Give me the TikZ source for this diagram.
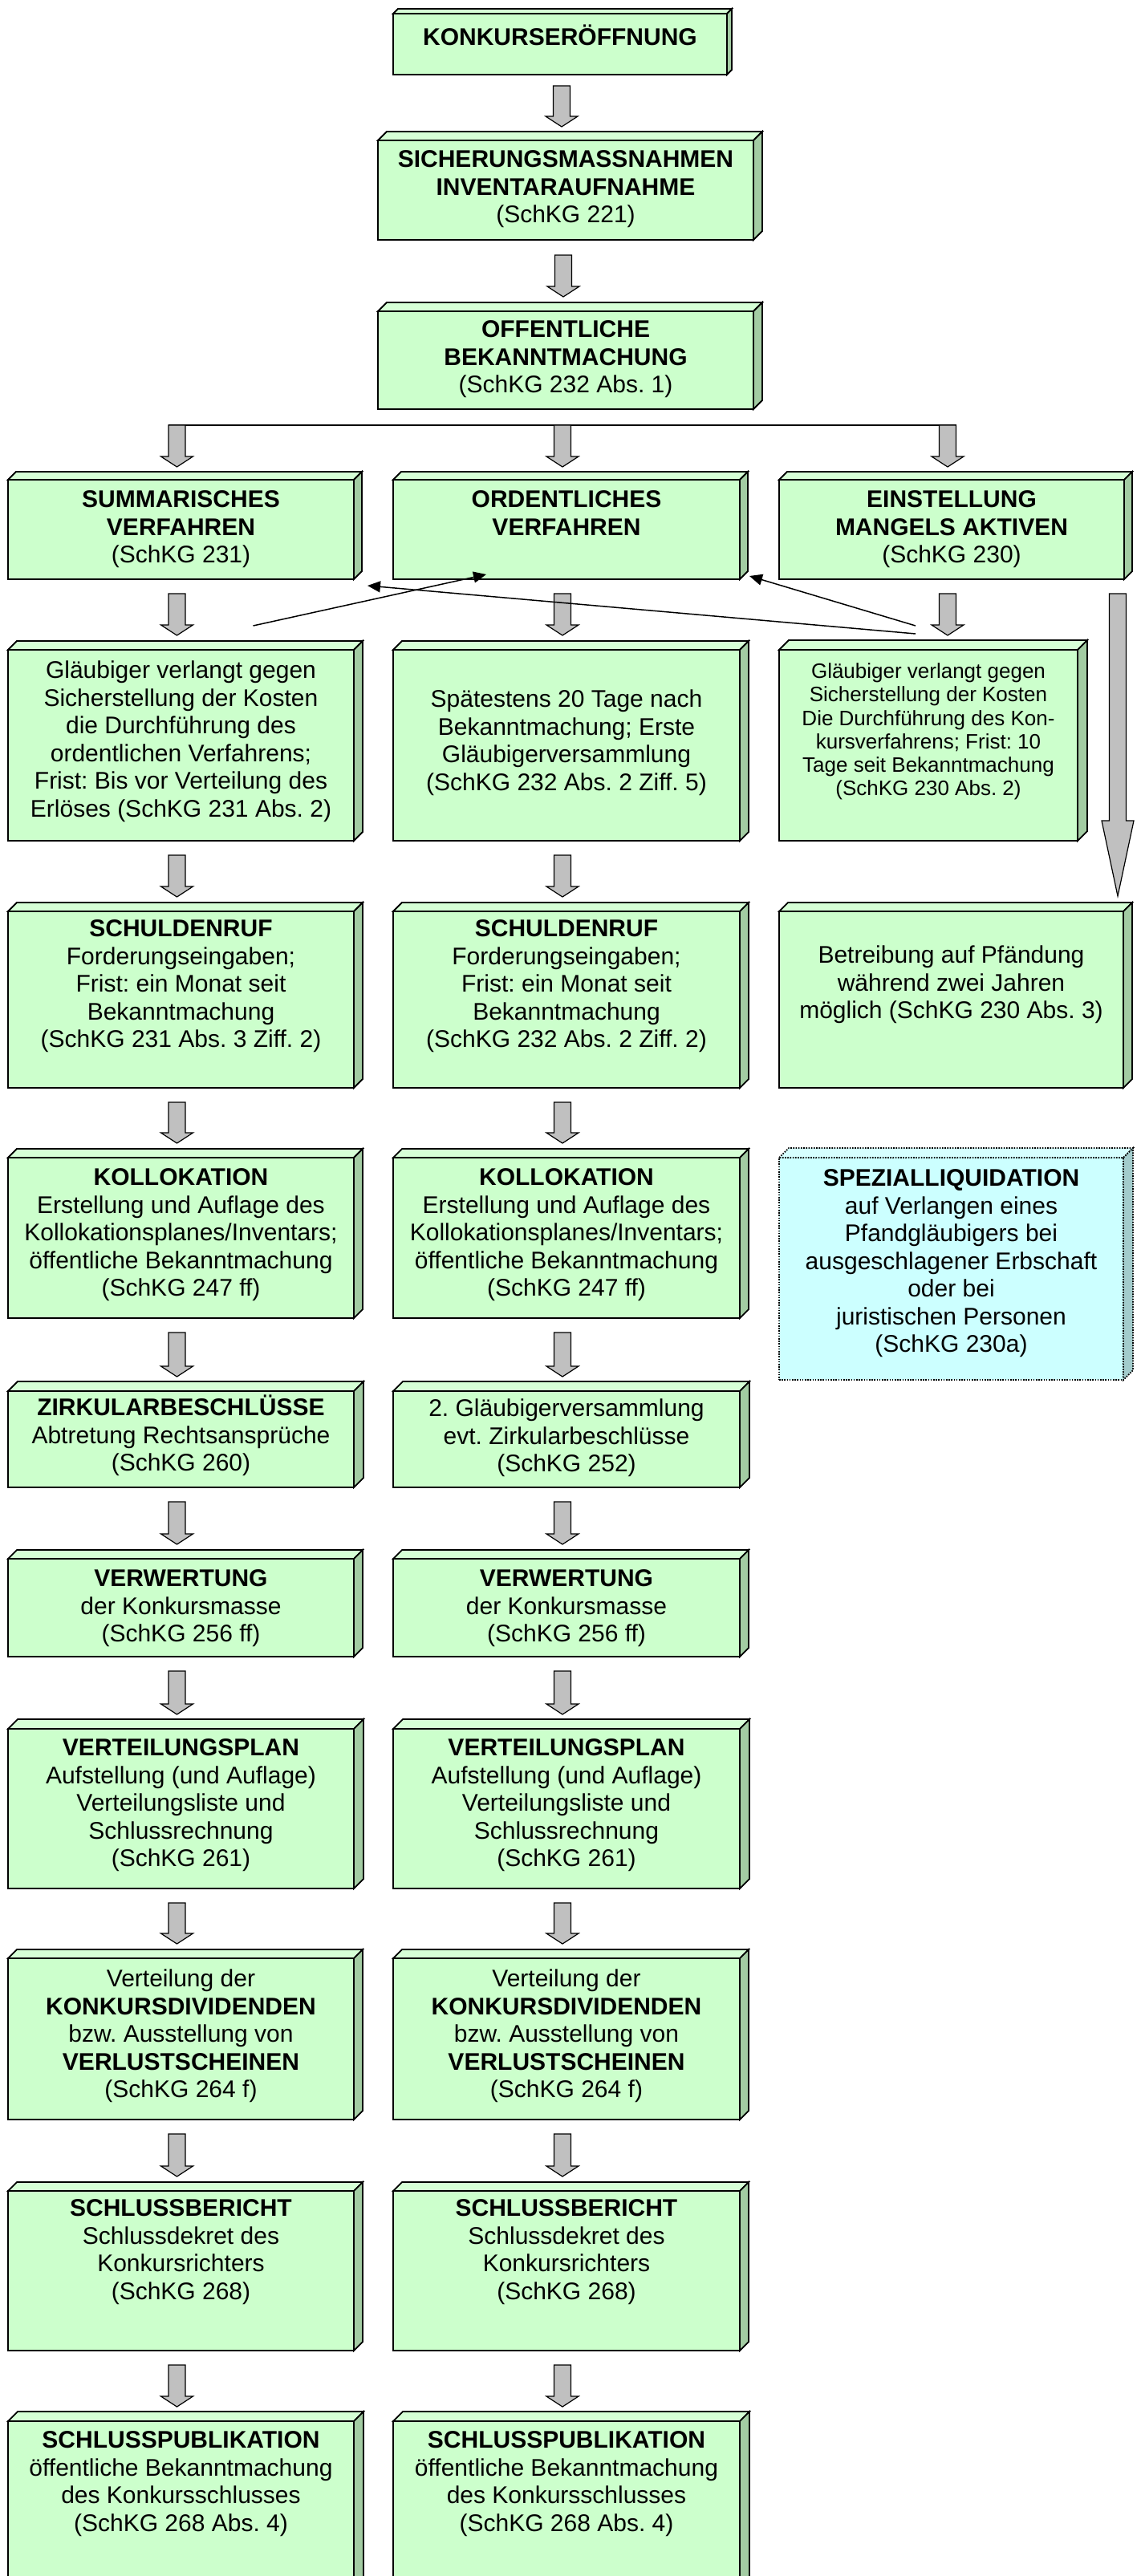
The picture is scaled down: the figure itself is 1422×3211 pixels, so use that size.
\documentclass[tikz,border=0pt]{standalone}
\usepackage{fontspec}
\setmainfont{Liberation Sans}
\usetikzlibrary{calc,arrows.meta}
\definecolor{gfront}{HTML}{CCFFCC}
\definecolor{gtop}{HTML}{D6FFD6}
\definecolor{gside}{HTML}{A3CCA3}
\definecolor{cfront}{HTML}{CCFFFF}
\definecolor{ctop}{HTML}{D6FFFF}
\definecolor{cside}{HTML}{A3CCCC}
\definecolor{agray}{HTML}{C0C0C0}
\tikzset{
  frontcol/.store in=\cbfront, topcol/.store in=\cbtop, sidecol/.store in=\cbside,
  frontcol=gfront, topcol=gtop, sidecol=gside,
  cubeline/.style={draw=black, line width=0.9pt, line join=miter},
  garrowst/.style={draw=black, fill=agray, line width=0.6pt, line join=miter},
  thinarr/.style={draw=black, line width=0.75pt, -{Triangle[length=8pt,width=7pt]}},
  barline/.style={draw=black, line width=1pt},
}
% #1 style, #2 name, #3 x1, #4 y1, #5 x2, #6 y2, #7 depth, #8 text offset (px), #9 text
\newcommand\cubebox[9][]{%
  \begin{scope}[#1]
  \pgfmathsetmacro\cbw{(#5-#3)*0.5}%
  \pgfmathsetmacro\cbh{(#6-#4)*0.5}%
  \pgfmathsetmacro\cbx{(#3+#5)/2}%
  \pgfmathsetmacro\cby{(#4+#6)/2}%
  \pgfmathsetmacro\cbt{#8*0.5-8.63}%
  \node[cubeline, fill=\cbfront, inner sep=0pt, outer sep=0pt] (#2) at (\cbx,\cby)
    {\begin{minipage}[c][\cbh pt][t]{\cbw pt}\frenchspacing\centering\vspace*{\cbt pt}\rule{0pt}{14pt}\ignorespaces#9\end{minipage}};
  \path[cubeline, fill=\cbtop] (#2.north west) -- ++(#7,-#7) -- ($(#2.north east)+(#7,-#7)$) -- (#2.north east) -- cycle;
  \path[cubeline, fill=\cbside] (#2.north east) -- ++(#7,-#7) -- ($(#2.south east)+(#7,-#7)$) -- (#2.south east) -- cycle;
  \end{scope}%
}
% #1 head length, #2 shaft start, #3 tip
\newcommand\garrow[3][6.5pt]{%
  \path[garrowst] let \p1=#2, \p2=#3 in
   (\x1-5.25pt,\y1) -- (\x1+5.25pt,\y1) -- (\x1+5.25pt,\y2+#1) -- (\x1+10pt,\y2+#1)
   -- (\x1,\y2) -- (\x1-10pt,\y2+#1) -- (\x1-5.25pt,\y2+#1) -- cycle;
}
\newcommand\colarrow[2]{\garrow{($(#1.south)+(-5,18)$)}{($(#2.north)+(-5,-18)$)}}
\begin{document}
\frenchspacing
\begin{tikzpicture}[x=0.5pt, y=-0.5pt, font=\fontsize{15}{17.25}\selectfont]
\useasboundingbox (0,0) rectangle (1422,3211);
\fill[white] (0,0) rectangle (1422,3211);
\begin{scope}
\clip (0,0) rectangle (1422,3211);

% top column
\cubebox{k1}{490}{17}{906}{93}{6}{29}{\textbf{KONKURSERÖFFNUNG}}
\cubebox{k2}{471}{175}{939}{299}{11}{23}{\textbf{SICHERUNGSMASSNAHMEN}\\\textbf{INVENTARAUFNAHME}\\(SchKG 221)}
\cubebox{k3}{471}{388}{939}{510}{11}{22}{\textbf{OFFENTLICHE}\\\textbf{BEKANNTMACHUNG}\\(SchKG 232 Abs. 1)}

% row 4
\cubebox{s4}{10}{598}{441}{722}{10}{24}{\textbf{SUMMARISCHES}\\\textbf{VERFAHREN}\\(SchKG 231)}
\cubebox{m4}{490}{598}{922}{722}{10}{24}{\textbf{ORDENTLICHES}\\\textbf{VERFAHREN}}
\cubebox{e4}{971}{598}{1401}{722}{10}{24}{\textbf{EINSTELLUNG}\\\textbf{MANGELS AKTIVEN}\\(SchKG 230)}

% row 5
\cubebox{s5}{10}{810}{441}{1048}{11}{25}{Gläubiger verlangt gegen\\Sicherstellung der Kosten\\die Durchführung des\\ordentlichen Verfahrens;\\Frist: Bis vor Verteilung des\\Erlöses (SchKG 231 Abs. 2)}
\cubebox{m5}{490}{810}{922}{1048}{11}{61}{Spätestens 20 Tage nach\\Bekanntmachung; Erste\\Gläubigerversammlung\\(SchKG 232 Abs. 2 Ziff. 5)}
\cubebox[font=\fontsize{13}{14.6}\selectfont]{r5}{971}{810}{1343}{1048}{12}{25}{Gläubiger verlangt gegen\\Sicherstellung der Kosten\\Die Durchführung des Kon-\\kursverfahrens; Frist: 10\\Tage seit Bekanntmachung\\(SchKG 230 Abs. 2)}

% row 6
\cubebox{s6}{10}{1136}{441}{1356}{11}{21}{\textbf{SCHULDENRUF}\\Forderungseingaben;\\Frist: ein Monat seit\\Bekanntmachung\\(SchKG 231 Abs. 3 Ziff. 2)}
\cubebox{m6}{490}{1136}{922}{1356}{11}{21}{\textbf{SCHULDENRUF}\\Forderungseingaben;\\Frist: ein Monat seit\\Bekanntmachung\\(SchKG 232 Abs. 2 Ziff. 2)}
\cubebox{r6}{971}{1136}{1400}{1356}{11}{54}{Betreibung auf Pfändung\\während zwei Jahren\\möglich (SchKG 230 Abs. 3)}

% row 7
\cubebox{s7}{10}{1443}{441}{1643}{11}{24}{\textbf{KOLLOKATION}\\Erstellung und Auflage des\\Kollokationsplanes/Inventars;\\öffentliche Bekanntmachung\\(SchKG 247 ff)}
\cubebox{m7}{490}{1443}{922}{1643}{11}{24}{\textbf{KOLLOKATION}\\Erstellung und Auflage des\\Kollokationsplanes/Inventars;\\öffentliche Bekanntmachung\\(SchKG 247 ff)}
\cubebox[frontcol=cfront, topcol=ctop, sidecol=cside, dash pattern=on 0.8pt off 0.8pt]{sp}{971}{1443}{1400}{1720}{12}{25}{\textbf{SPEZIALLIQUIDATION}\\auf Verlangen eines\\Pfandgläubigers bei\\ausgeschlagener Erbschaft\\oder bei\\juristischen Personen\\(SchKG 230a)}

% row 8
\cubebox{s8}{10}{1734}{441}{1854}{12}{20}{\textbf{ZIRKULARBESCHLÜSSE}\\Abtretung Rechtsansprüche\\(SchKG 260)}
\cubebox{m8}{490}{1734}{922}{1854}{12}{21}{2. Gläubigerversammlung\\evt. Zirkularbeschlüsse\\(SchKG 252)}

% row 9
\cubebox{s9}{10}{1943}{441}{2065}{11}{24}{\textbf{VERWERTUNG}\\der Konkursmasse\\(SchKG 256 ff)}
\cubebox{m9}{490}{1943}{922}{2065}{11}{24}{\textbf{VERWERTUNG}\\der Konkursmasse\\(SchKG 256 ff)}

% row 10
\cubebox{s10}{10}{2155}{441}{2354}{12}{23}{\textbf{VERTEILUNGSPLAN}\\Aufstellung (und Auflage)\\Verteilungsliste und\\Schlussrechnung\\(SchKG 261)}
\cubebox{m10}{490}{2155}{922}{2354}{12}{23}{\textbf{VERTEILUNGSPLAN}\\Aufstellung (und Auflage)\\Verteilungsliste und\\Schlussrechnung\\(SchKG 261)}

% row 11
\cubebox{s11}{10}{2441}{441}{2642}{11}{25}{Verteilung der\\\textbf{KONKURSDIVIDENDEN}\\bzw. Ausstellung von\\\textbf{VERLUSTSCHEINEN}\\(SchKG 264 f)}
\cubebox{m11}{490}{2441}{922}{2642}{11}{25}{Verteilung der\\\textbf{KONKURSDIVIDENDEN}\\bzw. Ausstellung von\\\textbf{VERLUSTSCHEINEN}\\(SchKG 264 f)}

% row 12
\cubebox{s12}{10}{2731}{441}{2930}{11}{21}{\textbf{SCHLUSSBERICHT}\\Schlussdekret des\\Konkursrichters\\(SchKG 268)}
\cubebox{m12}{490}{2731}{922}{2930}{11}{21}{\textbf{SCHLUSSBERICHT}\\Schlussdekret des\\Konkursrichters\\(SchKG 268)}

% row 13
\cubebox{s13}{10}{3018}{441}{3232}{12}{23}{\textbf{SCHLUSSPUBLIKATION}\\öffentliche Bekanntmachung\\des Konkursschlusses\\(SchKG 268 Abs. 4)}
\cubebox{m13}{490}{3018}{922}{3232}{12}{23}{\textbf{SCHLUSSPUBLIKATION}\\öffentliche Bekanntmachung\\des Konkursschlusses\\(SchKG 268 Abs. 4)}

% top arrows
\garrow{($(k1.south)+(2,14)$)}{($(k2.north)+(2,-17)$)}
\garrow{($(k2.south)+(-3,19)$)}{($(k3.north)+(-3,-18)$)}

% distribution bar
\coordinate (barL) at ($(s4.north)+(-16,-68)$);
\coordinate (barR) at ($(e4.north)+(6,-68)$);
\draw[barline] (barL) -- (barR);
\garrow{($(s4.north)+(-5,-68)$)}{($(s4.north)+(-5,-16)$)}
\garrow{($(m4.north)+(-5,-68)$)}{($(m4.north)+(-5,-16)$)}
\garrow{($(e4.north)+(-5,-68)$)}{($(e4.north)+(-5,-16)$)}

% column arrows
\colarrow{s4}{s5}\colarrow{s5}{s6}\colarrow{s6}{s7}\colarrow{s7}{s8}
\colarrow{s8}{s9}\colarrow{s9}{s10}\colarrow{s10}{s11}\colarrow{s11}{s12}\colarrow{s12}{s13}
\colarrow{m4}{m5}\colarrow{m5}{m6}\colarrow{m6}{m7}\colarrow{m7}{m8}
\colarrow{m8}{m9}\colarrow{m9}{m10}\colarrow{m10}{m11}\colarrow{m11}{m12}\colarrow{m12}{m13}
\colarrow{e4}{r5}

% long arrow
\garrow[47pt]{($(e4.south east)+(-8,18)$)}{($(r6.north)+(0,-19)$)}

% thin arrows
\draw[thinarr] ($(s5.north)+(90,-30)$) -- ($(m4.south west)+(116,-6)$);
\draw[thinarr] ($(r5.north)+(-16,-20)$) -- ($(s4.south east)+(17,8)$);
\draw[thinarr] ($(r5.north)+(-16,-30)$) -- ($(m4.south east)+(12,-4)$);
\end{scope}
\end{tikzpicture}
\end{document}
